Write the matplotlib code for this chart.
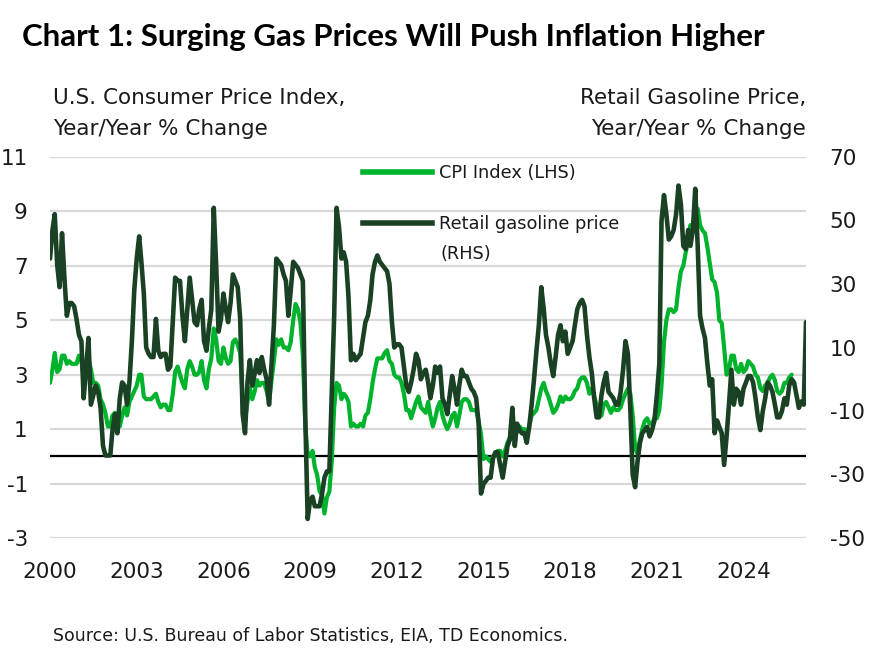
import matplotlib
matplotlib.use("Agg")
import matplotlib.pyplot as plt
from matplotlib.lines import Line2D
import pandas as pd

plt.rcParams['font.family'] = ['DejaVu Sans']
plt.rcParams['axes.unicode_minus'] = False

# U.S. CPI, y/y % change, monthly from Jan 2000 (one row per year)
cpi_yoy = [
    2.7, 3.2, 3.8, 3.1, 3.2, 3.7, 3.7, 3.4, 3.5, 3.4, 3.4, 3.4,      # 2000
    3.7, 3.5, 2.9, 3.3, 3.6, 3.2, 2.7, 2.7, 2.6, 2.1, 1.9, 1.6,      # 2001
    1.1, 1.1, 1.5, 1.6, 1.2, 1.1, 1.5, 1.8, 1.5, 2.0, 2.2, 2.4,      # 2002
    2.6, 3.0, 3.0, 2.2, 2.1, 2.1, 2.1, 2.2, 2.3, 2.0, 1.8, 1.9,      # 2003
    1.9, 1.7, 1.7, 2.3, 3.1, 3.3, 3.0, 2.7, 2.5, 3.2, 3.5, 3.3,      # 2004
    3.0, 3.0, 3.1, 3.5, 2.8, 2.5, 3.2, 3.6, 4.7, 4.3, 3.5, 3.4,      # 2005
    4.0, 3.6, 3.4, 3.5, 4.2, 4.3, 4.1, 3.8, 2.1, 1.3, 2.0, 2.5,      # 2006
    2.1, 2.4, 2.8, 2.6, 2.7, 2.7, 2.4, 2.0, 2.8, 3.5, 4.3, 4.1,      # 2007
    4.3, 4.0, 4.0, 3.9, 4.2, 5.0, 5.6, 5.4, 4.9, 3.7, 1.1, 0.1,      # 2008
    0.0, 0.2, -0.4, -0.7, -1.3, -1.4, -2.1, -1.5, -1.3, -0.2, 1.8, 2.7,  # 2009
    2.6, 2.1, 2.3, 2.2, 2.0, 1.1, 1.2, 1.1, 1.1, 1.2, 1.1, 1.5,      # 2010
    1.6, 2.1, 2.7, 3.2, 3.6, 3.6, 3.6, 3.8, 3.9, 3.5, 3.4, 3.0,      # 2011
    2.9, 2.9, 2.7, 2.3, 1.7, 1.7, 1.4, 1.7, 2.0, 2.2, 1.8, 1.7,      # 2012
    1.6, 2.0, 1.5, 1.1, 1.4, 1.8, 2.0, 1.5, 1.2, 1.0, 1.2, 1.5,      # 2013
    1.6, 1.1, 1.5, 2.0, 2.1, 2.1, 2.0, 1.7, 1.7, 1.7, 1.3, 0.8,      # 2014
    -0.1, 0.0, -0.1, -0.2, 0.0, 0.1, 0.2, 0.2, 0.0, 0.2, 0.5, 0.7,   # 2015
    1.4, 1.0, 0.9, 1.1, 1.0, 1.0, 0.8, 1.1, 1.5, 1.6, 1.7, 2.1,      # 2016
    2.5, 2.7, 2.4, 2.2, 1.9, 1.6, 1.7, 1.9, 2.2, 2.0, 2.2, 2.1,      # 2017
    2.1, 2.2, 2.4, 2.5, 2.8, 2.9, 2.9, 2.7, 2.3, 2.5, 2.2, 1.9,      # 2018
    1.6, 1.5, 1.9, 2.0, 1.8, 1.6, 1.8, 1.7, 1.7, 1.8, 2.1, 2.3,      # 2019
    2.5, 2.3, 1.5, 0.3, 0.1, 0.6, 1.0, 1.3, 1.4, 1.2, 1.2, 1.4,      # 2020
    1.4, 1.7, 2.6, 4.2, 5.0, 5.4, 5.4, 5.3, 5.4, 6.2, 6.8, 7.0,      # 2021
    7.5, 7.9, 8.5, 8.3, 8.6, 9.1, 8.5, 8.3, 8.2, 7.7, 7.1, 6.5,      # 2022
    6.4, 6.0, 5.0, 4.9, 4.0, 3.0, 3.2, 3.7, 3.7, 3.2, 3.1, 3.4,      # 2023
    3.1, 3.2, 3.5, 3.4, 3.3, 3.0, 2.9, 2.5, 2.4, 2.6, 2.7, 2.9,      # 2024
    3.0, 2.8, 2.4, 2.3, 2.4, 2.7, 2.7, 2.9, 3.0,                     # 2025
]

# retail gasoline price, y/y % change, monthly from Jan 2000
gas_yoy = [
    38, 47, 52, 36, 29, 46, 32, 20, 24, 24, 23, 19,          # 2000
    14, 12, -6, 3, 13, -8, -5, -2, -4, -9, -21, -24,         # 2001
    -24, -24, -16, -11, -17, -6, -1, -2, -8, -1, 12, 28,     # 2002
    38, 45, 37, 27, 10, 8, 7, 7, 19, 9, 7, 8,                # 2003
    8, 3, 4, 18, 32, 31, 31, 20, 12, 22, 32, 25,             # 2004
    18, 17, 22, 25, 12, 9, 16, 22, 54, 36, 15, 19,           # 2005
    27, 22, 18, 24, 33, 31, 29, 19, -11, -17, -1, 6,         # 2006
    -2, 2, 6, 2, 7, 3, 0, -8, 5, 17, 38, 37,                 # 2007
    36, 33, 31, 20, 28, 37, 36, 35, 33, 31, -12, -44,        # 2008
    -38, -37, -40, -40, -40, -36, -31, -29, -29, -5, 20, 54, # 2009
    48, 38, 40, 37, 26, 6, 8, 6, 7, 8, 13, 18,               # 2010
    20, 25, 33, 37, 39, 37, 36, 35, 34, 30, 18, 10,          # 2011
    11, 11, 10, 4, -2, -4, -1, 3, 8, 6, 0, 2,                # 2012
    3, -1, -6, -2, 4, 2, 4, -6, -8, -11, -5, 1,              # 2013
    -3, -8, -2, 3, 1, 1, -1, -3, -4, -6, -14, -36,           # 2014
    -33, -32, -31, -31, -25, -23, -23, -27, -31, -26, -21, -19,  # 2015
    -9, -21, -14, -16, -17, -17, -20, -15, -8, 0, 9, 17,     # 2016
    29, 22, 14, 10, 5, 1, 7, 14, 17, 12, 15, 8,              # 2017
    10, 12, 17, 22, 24, 25, 23, 14, 7, 2, -6, -12,           # 2018
    -12, -5, -1, 2, -4, -5, -6, -8, -8, -4, 3, 12,           # 2019
    8, -10, -30, -34, -26, -20, -17, -16, -15, -18, -16, -13,  # 2020
    -5, 5, 50, 58, 52, 44, 45, 47, 52, 61, 55, 42,           # 2021
    41, 47, 42, 47, 60, 42, 20, 16, 13, 5, -2, 0,            # 2022
    -17, -13, -15, -17, -27, -18, -8, 3, -8, -3, -4, -8,     # 2023
    -3, -1, 1, 1, -1, -6, -12, -16, -10, -6, -1, -2,         # 2024
    -4, -8, -12, -12, -10, -6, -8, -2, 0, -1, -5, -9,        # 2025
    -7, -8, 18,                                              # 2026
]

cpi_ticks = [-3, -1, 1, 3, 5, 7, 9, 11]
gas_ticks = [-50, -30, -10, 10, 30, 50, 70]
year_ticks = [2000, 2003, 2006, 2009, 2012, 2015, 2018, 2021, 2024]

cpi_dates = pd.date_range('2000-01-01', periods=len(cpi_yoy), freq='MS')
gas_dates = pd.date_range('2000-01-01', periods=len(gas_yoy), freq='MS')

light_green = '#00b32c'
dark_green = '#1b4125'
txt = '#1a1a1a'

fig = plt.figure(figsize=(8.72, 6.5), dpi=100)
ax = fig.add_axes([50 / 872, 1 - 538 / 650, 756 / 872, 381 / 650])
ax2 = ax.twinx()

ax.set_ylim(-3, 11)
ax2.set_ylim(-50, 70)
ax.set_yticks(cpi_ticks)
ax2.set_yticks(gas_ticks)
ax.set_xlim(gas_dates[0], gas_dates[-1])
ax.set_xticks(pd.to_datetime([f'{y}-01-01' for y in year_ticks]))
ax.set_xticklabels([str(y) for y in year_ticks])

ax.grid(axis='y', color='#d9d9d9', lw=1.6)
ax.set_axisbelow(True)
ax.axhline(0, color='black', lw=1.6, zorder=1)

ax.plot(cpi_dates, cpi_yoy, color=light_green, lw=3.0, zorder=2,
        solid_joinstyle='round', solid_capstyle='round')
ax2.plot(gas_dates, gas_yoy, color=dark_green, lw=3.3, zorder=3,
         solid_joinstyle='round', solid_capstyle='round')

for a in (ax, ax2):
    for s in a.spines.values():
        s.set_visible(False)
ax.tick_params(axis='both', length=0, labelsize=15.5, labelcolor=txt)
ax.tick_params(axis='y', pad=16)
ax.tick_params(axis='x', pad=17)
ax2.tick_params(axis='y', length=0, labelsize=15.5, labelcolor=txt, pad=17)

handles = [Line2D([], [], color=light_green, lw=4),
           Line2D([], [], color=dark_green, lw=4)]
leg = ax2.legend(handles, ['CPI Index (LHS)', 'Retail gasoline price'],
                 loc='upper left', bbox_to_anchor=(363 / 872, 1 - 164 / 650),
                 bbox_transform=fig.transFigure, frameon=False, fontsize=12.8,
                 handlelength=3.9, handletextpad=0.4, labelspacing=1.85,
                 borderpad=0, borderaxespad=0)
for t in leg.get_texts():
    t.set_color(txt)
fig.text(440 / 872, 1 - 254 / 650, '(RHS)', fontsize=12.8, color=txt,
         ha='left', va='center')

fig.text(22 / 872, 1 - 46 / 650, 'Chart 1: Surging Gas Prices Will Push Inflation Higher',
         fontsize=22.5, fontweight='bold', color='black', ha='left', va='baseline',
         family=['Lato', 'DejaVu Sans'])
fig.text(53 / 872, 1 - 98 / 650, 'U.S. Consumer Price Index,', fontsize=15.5,
         color=txt, ha='left', va='center')
fig.text(53 / 872, 1 - 129 / 650, 'Year/Year % Change', fontsize=15.5,
         color=txt, ha='left', va='center')
fig.text(806 / 872, 1 - 98 / 650, 'Retail Gasoline Price,', fontsize=15.5,
         color=txt, ha='right', va='center')
fig.text(806 / 872, 1 - 129 / 650, 'Year/Year % Change', fontsize=15.5,
         color=txt, ha='right', va='center')
fig.text(53 / 872, 1 - 636 / 650, 'Source: U.S. Bureau of Labor Statistics, EIA, TD Economics.',
         fontsize=12.5, color=txt, ha='left', va='center')

fig.savefig('out.png', dpi=100)
